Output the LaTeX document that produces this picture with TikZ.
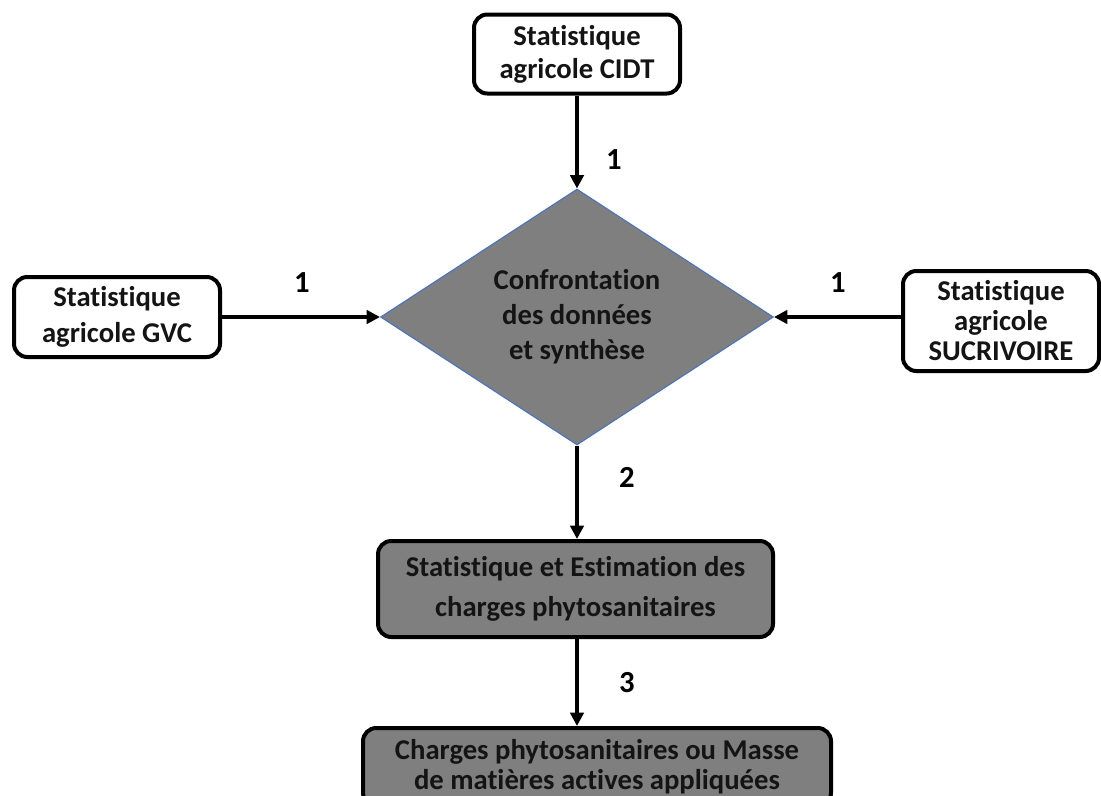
\documentclass[tikz,border=0pt]{standalone}
\usepackage{fontspec}
\setmainfont{Carlito}[Ligatures={NoCommon}]
\usetikzlibrary{arrows.meta,shapes.geometric}
\definecolor{boxgray}{RGB}{127,127,127}
\definecolor{dialine}{RGB}{68,114,196}
\definecolor{txt}{RGB}{20,20,20}
\begin{document}
\begin{tikzpicture}[x=0.75pt,y=-0.75pt,
  box/.style={draw=black, line width=3pt, rounded corners=10pt, fill=white,
    align=center, inner sep=0pt, text=txt},
  graybox/.style={box, fill=boxgray},
  arr/.style={line width=2.6pt, -{Triangle[length=10pt,width=10pt]}},
  lbl/.style={font=\bfseries\fontsize{23}{26}\selectfont, inner sep=0pt, text=black}]
\path[use as bounding box] (0,0) rectangle (1101,796);
\clip (0,0) rectangle (1101,796);
\fill[white] (0,0) rectangle (1101,796);

\node[box, minimum width=154.5pt, minimum height=59.25pt,
  font=\bfseries\fontsize{21.5}{24.75}\selectfont] (cidt) at (577,54)
  {Statistique\\agricole CIDT};
\node[box, minimum width=154.5pt, minimum height=60pt,
  font=\bfseries\fontsize{21.5}{27}\selectfont] (gvc) at (117,317)
  {Statistique\\agricole GVC};
\node[box, minimum width=147pt, minimum height=75pt,
  font=\bfseries\fontsize{21.5}{22.5}\selectfont] (sucr) at (1001,321)
  {Statistique\\agricole\\SUCRIVOIRE};
\node[diamond, draw=dialine, line width=0.75pt, fill=boxgray, text=txt,
  shape aspect=1.535, minimum width=294.75pt, minimum height=192pt,
  inner sep=0pt, align=center,
  font=\bfseries\fontsize{21.5}{26.25}\selectfont] (dia) at (577,317)
  {Confrontation\\des données\\et synthèse};
\node[graybox, minimum width=296.25pt, minimum height=72pt,
  font=\bfseries\fontsize{21.5}{30}\selectfont] (est) at (575.5,589)
  {Statistique et Estimation des\\charges phytosanitaires};
\node[graybox, minimum width=351pt, minimum height=58.5pt,
  font=\bfseries\fontsize{21.5}{22.5}\selectfont] (charges) at (597,767)
  {Charges phytosanitaires ou Masse\\de matières actives appliquées};

\draw[arr] (cidt.south) -- (dia.north);
\draw[arr] (gvc.east) -- (dia.west);
\draw[arr] (sucr.west |- dia.east) -- (dia.east);
\draw[arr] (dia.south) -- (dia.south |- est.north);
\draw[arr] (dia.south |- est.south) -- (dia.south |- charges.north);

\node[lbl] (l1) at (614,160) {1};
\node[lbl] (l2) at (302,283) {1};
\node[lbl] (l3) at (838,283) {1};
\node[lbl] (l4) at (627,477) {2};
\node[lbl] (l5) at (627,683) {3};
\end{tikzpicture}
\end{document}
